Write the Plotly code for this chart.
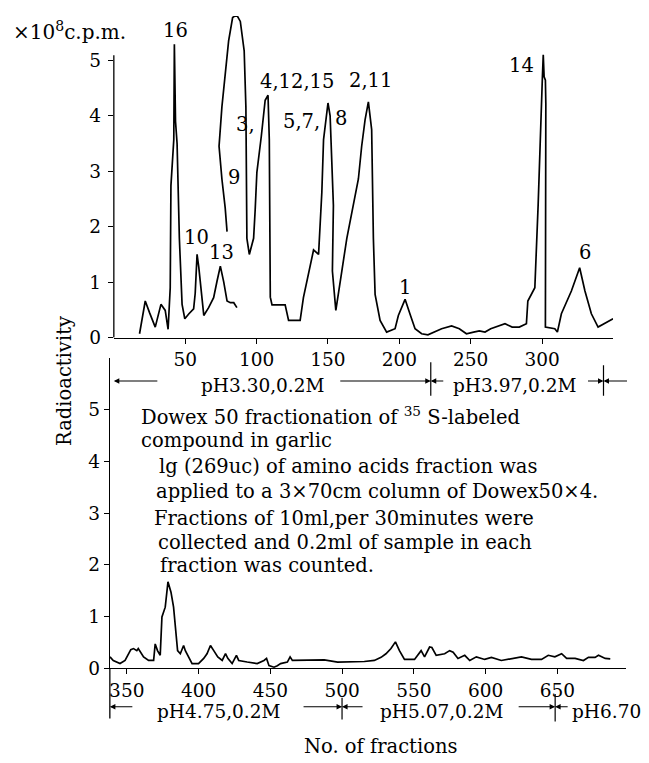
import plotly.graph_objects as go

# ---------------- data ----------------
# upper panel (fractions 0-350), curve drawn in two strokes as in the original
top_a_frac = [18, 22, 25, 29, 33, 36, 38, 39.5, 40, 42, 42.4, 43.2, 44.3, 45.9, 47.8, 49.7, 52.6, 55.9,
              57, 58.3, 59.5, 60.7, 63, 66.4, 69.9, 72.3, 74.6, 77, 79.3, 81.6, 84, 86.2]
top_a_val = [0.07, 0.66, 0.45, 0.19, 0.60, 0.49, 0.15, 0.90, 2.74, 3.57, 5.29, 3.9, 3.5, 1.79, 0.60, 0.34, 0.43, 0.52,
             0.80, 1.50, 1.27, 1.00, 0.40, 0.54, 0.72, 1.02, 1.29, 1.00, 0.66, 0.63, 0.63, 0.54]

top_b_frac = [79.3, 78, 75.7, 73.7, 75.7, 78, 80.4, 83.2, 86, 88.6, 91.3, 92.5, 93.2, 94.9, 97.9, 99, 100.2,
              103.3, 106, 108, 108.9, 109.6, 110.8, 115.4, 120, 122.4, 130.5, 132.8, 137.5, 139.9, 143.4,
              145.7, 146.9, 149.2, 150, 151.5, 153.8, 153.1, 155.5, 159.7, 163.2, 171.3, 173.6, 176, 178.3,
              180.6, 181.8, 183, 186.5, 191.1, 197, 199.3, 204, 207.5, 211, 215.6, 220, 229.6, 236.6, 242,
              247, 252, 256, 260, 264, 274, 279, 284, 289, 290, 294.9, 297.2, 299.1, 300.2, 300.8, 301.4,
              302.3, 302.6, 302.3, 308.9, 310.7, 313.5, 320.5, 326.3, 330, 334.5, 339.2, 345, 349.7]
top_b_val = [1.91, 2.34, 2.86, 3.45, 4.16, 4.80, 5.35, 5.77, 5.82, 5.70, 5.17, 4.16, 1.79, 1.50, 1.79, 2.30, 2.98,
             3.63, 4.28, 4.37, 3.57, 0.73, 0.59, 0.59, 0.59, 0.31, 0.31, 0.72, 1.32, 1.58, 1.50,
             2.62, 3.57, 4.04, 4.23, 4.00, 2.38, 1.20, 0.49, 1.20, 1.79, 2.86, 3.45, 3.93, 4.25,
             3.75, 1.79, 0.78, 0.31, 0.10, 0.16, 0.40, 0.69, 0.42, 0.16, 0.07, 0.05, 0.16, 0.21, 0.16,
             0.07, 0.10, 0.12, 0.10, 0.16, 0.25, 0.19, 0.19, 0.25, 0.66, 0.90, 2.38, 4.16, 4.70, 5.10, 4.70,
             4.64, 4.22, 0.19, 0.16, 0.10, 0.43, 0.84, 1.26, 0.84, 0.43, 0.19, 0.28, 0.34]

# lower panel (fractions 338-698)
bot_frac = [338.3, 340.6, 345.3, 348.8, 352.8, 354.7, 357, 358, 361.7, 365.2, 368.7, 369.8, 371.4, 373.3,
            374.5, 376.8, 378.7, 379.6, 380.8, 382.6, 384.5, 385.4, 387.3, 389.6, 390.8, 393.1, 395.5, 400,
            403.6, 405.9, 408.3, 410.6, 413.4, 416.5, 418.8, 420.4, 423.4, 426.4, 428, 433.9, 440.9, 445.6,
            447.4, 449.1, 452.6, 454.9, 457.2, 461.9, 463.8, 465.4, 471.2, 478.2, 487.6, 496.9, 506.2, 515.5,
            522.5, 527.2, 530.6, 534.1, 537.2, 540, 543.5, 550.5, 555.1, 557.5, 561, 562.6, 565.6, 571.5,
            575, 577.4, 580.8, 585.5, 589, 593.6, 599.4, 604.1, 611, 618, 625, 632, 639, 643.7, 648.3, 653,
            656.5, 662.4, 668.2, 671.7, 676.3, 678.7, 683.4, 686.9]
bot_val = [0.22, 0.15, 0.09, 0.15, 0.36, 0.38, 0.34, 0.38, 0.22, 0.15, 0.15, 0.47, 0.34, 0.25,
           0.99, 1.18, 1.67, 1.56, 1.47, 1.18, 0.67, 0.34, 0.28, 0.44, 0.34, 0.22, 0.09, 0.09,
           0.19, 0.28, 0.44, 0.34, 0.22, 0.15, 0.28, 0.19, 0.09, 0.25, 0.15, 0.12, 0.09, 0.15,
           0.19, 0.05, 0.02, 0.05, 0.09, 0.12, 0.22, 0.15, 0.15, 0.16, 0.16, 0.12, 0.12, 0.13,
           0.15, 0.21, 0.28, 0.38, 0.51, 0.34, 0.17, 0.17, 0.34, 0.22, 0.41, 0.40, 0.25, 0.28,
           0.34, 0.31, 0.19, 0.25, 0.15, 0.22, 0.17, 0.21, 0.15, 0.19, 0.22, 0.17, 0.17, 0.25, 0.22, 0.28,
           0.19, 0.19, 0.15, 0.21, 0.21, 0.25, 0.19, 0.18]

top_ticks = [50, 100, 150, 200, 250, 300]
bot_ticks = [350, 400, 450, 500, 550, 600, 650]
y_ticks = [0, 1, 2, 3, 4, 5]

# peak identification labels (upper panel)
peak_text = ["16", "10", "13", "3,", "9", "4,12,15", "5,7,", "8", "2,11", "1", "14", "6"]
peak_frac = [43.4, 58, 75.5, 92.3, 84, 128, 131.5, 159.4, 179.7, 204.2, 285.3, 330]
peak_lab_y = [5.53, 1.81, 1.53, 3.84, 2.88, 4.61, 3.90, 3.95, 4.64, 0.91, 4.91, 1.53]

# elution buffer segments
top_buffers = ["pH3.30,0.2M", "pH3.97,0.2M"]
top_buffer_mid = [104.2, 280.4]
top_dividers = [222, 343]
bot_buffers = ["pH4.75,0.2M", "pH5.07,0.2M"]
bot_buffer_mid = [413.7, 569.5]
bot_last_buffer = "pH6.70"
bot_last_start = 659
bot_dividers = [500, 648.5]

caption_lines = ["Dowex 50 fractionation of <sup>35</sup> S-labeled",
                 "compound in garlic",
                 "lg (269uc) of amino acids fraction was",
                 "applied to a 3×70cm column of Dowex50×4.",
                 "Fractions of 10ml,per 30minutes were",
                 "collected and 0.2ml of sample in each",
                 "fraction was counted."]

# ---------------- layout helpers ----------------
W, H = 649, 763
def px(x):
    return x / W
def py(y):
    return 1 - y / H

FONT = "DejaVu Serif"
fs = 19.5
black = "black"

fig = go.Figure()
line_style = dict(color=black, width=1.7)
fig.add_trace(go.Scatter(x=top_a_frac, y=top_a_val, mode="lines", line=line_style, xaxis="x", yaxis="y",
                         hoverinfo="skip"))
fig.add_trace(go.Scatter(x=top_b_frac, y=top_b_val, mode="lines", line=line_style, xaxis="x", yaxis="y",
                         hoverinfo="skip"))
fig.add_trace(go.Scatter(x=bot_frac, y=bot_val, mode="lines", line=line_style, xaxis="x2", yaxis="y2",
                         hoverinfo="skip"))

tickfont = dict(family=FONT, size=18.5, color=black)
axis_common = dict(showgrid=False, zeroline=False, ticks="outside", ticklen=5, tickwidth=1.2,
                   tickcolor=black, tickfont=tickfont, linecolor=black, linewidth=1.3)

fig.update_layout(
    width=W, height=H,
    margin=dict(l=0, r=0, t=0, b=0),
    paper_bgcolor="white", plot_bgcolor="white",
    showlegend=False,
    xaxis=dict(domain=[px(105), px(605)], range=[0, 349.7], tickvals=top_ticks, showline=True,
               anchor="y", **axis_common),
    yaxis=dict(domain=[py(334), py(8)], range=[0, 5.8], tickvals=y_ticks, showline=False,
               anchor="x", ticklabelstandoff=3, **axis_common),
    xaxis2=dict(domain=[px(101), px(618)], range=[338.2, 697.9], tickvals=bot_ticks, showline=True,
                anchor="y2", **axis_common),
    yaxis2=dict(domain=[py(669), py(355)], range=[0, 5.99], tickvals=y_ticks, showline=True,
                anchor="x2", **axis_common),
)

shapes = []
# upper y-axis line (stops just above the 5 tick)
shapes.append(dict(type="line", xref="x domain", yref="y", x0=0, x1=0, y0=0, y1=5.09,
                   line=dict(color=black, width=1.3)))
# lower y-axis line extends down through the buffer row
shapes.append(dict(type="line", xref="x2 domain", yref="paper", x0=0, x1=0, y0=py(669), y1=py(720),
                   line=dict(color=black, width=1.3)))
for d, (a, b) in zip(top_dividers, [(359, 393), (362, 393)]):
    shapes.append(dict(type="line", xref="x", yref="paper", x0=d, x1=d, y0=py(a), y1=py(b),
                       line=dict(color=black, width=1.2)))
for d, (a, b) in zip(bot_dividers, [(699, 721), (695, 723)]):
    shapes.append(dict(type="line", xref="x2", yref="paper", x0=d, x1=d, y0=py(a), y1=py(b),
                       line=dict(color=black, width=1.2)))
fig.update_layout(shapes=shapes)

ann = []
tf = dict(family=FONT, size=fs, color=black)
bf = dict(family=FONT, size=18.5, color=black)
def text(t, x, y, xref="paper", yref="paper", xanchor="center", font=tf, **kw):
    return dict(text=t, x=x, y=y, xref=xref, yref=yref, xanchor=xanchor, yanchor="middle",
                showarrow=False, font=font, **kw)

for t, x, y in zip(peak_text, peak_frac, peak_lab_y):
    ann.append(text(t, x, y, xref="x", yref="y"))

# buffer texts
for t, x in zip(top_buffers, top_buffer_mid):
    ann.append(text(t, x, py(383), xref="x", font=bf))
for t, x in zip(bot_buffers, bot_buffer_mid):
    ann.append(text(t, x, py(713), xref="x2", font=bf))
ann.append(text(bot_last_buffer, bot_last_start, py(713), xref="x2", xanchor="left", font=bf))

# arrows: head position (fraction) and tail offset in pixels
def arrow(xref, head, tail_off, ypix):
    return dict(text="", x=head, y=py(ypix), xref=xref, yref="paper", ax=tail_off, ay=0,
                axref="pixel", ayref="pixel", showarrow=True, arrowhead=2, arrowsize=1,
                arrowwidth=1.1, arrowcolor=black, standoff=0, startstandoff=0)

ann += [arrow("x", 0, 45, 378), arrow("x", top_dividers[0], -92, 378), arrow("x", top_dividers[0], 14, 378),
        arrow("x", top_dividers[1], -17, 378), arrow("x", top_dividers[1], 25, 378)]
ann += [arrow("x2", 338.2, 24, 708), arrow("x2", bot_dividers[0], -40, 708), arrow("x2", bot_dividers[0], 22, 708),
        arrow("x2", bot_dividers[1], -38, 708), arrow("x2", bot_dividers[1], 14, 708)]

# caption
cap_x = [130, 130, 148, 145, 143, 147, 149]
cap_y = [413, 438, 465, 490, 517, 542, 565]
for t, x, y in zip(caption_lines, cap_x, cap_y):
    ann.append(text(t, px(x), py(y), xanchor="left"))

ann.append(text("×10<sup>8</sup>c.p.m.", px(2), py(23), xanchor="left", font=dict(family=FONT, size=20, color=black)))
ann.append(text("Radioactivity", px(55), py(378), textangle=-90))
ann.append(text("No. of fractions", px(293), py(748), xanchor="left"))
fig.update_layout(annotations=ann)

fig.write_html("out.html")
